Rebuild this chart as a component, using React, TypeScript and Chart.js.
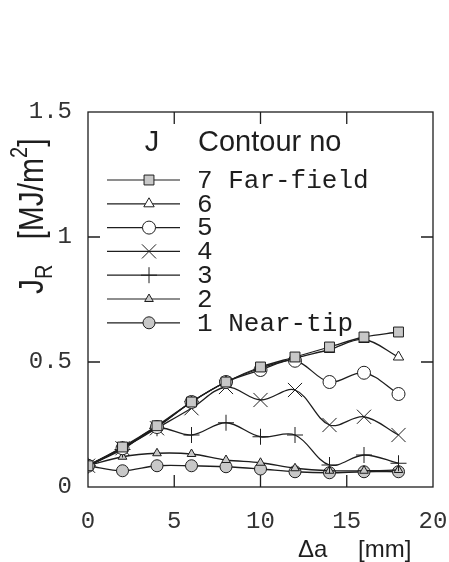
import React, { useEffect, useRef } from "react";
import { Chart, registerables } from "chart.js";
import { drawPoint } from "chart.js/helpers";

Chart.register(...registerables);

// ---- data ----
const crackExtension = [0, 2, 4, 6, 8, 10, 12, 14, 16, 18];
const contour7 = [0.085, 0.16, 0.245, 0.34, 0.42, 0.48, 0.52, 0.56, 0.6, 0.62];
const contour6 = [0.085, 0.158, 0.24, 0.34, 0.42, 0.475, 0.515, 0.55, 0.59, 0.52];
const contour5 = [0.085, 0.155, 0.24, 0.34, 0.42, 0.468, 0.505, 0.42, 0.457, 0.372];
const contour4 = [0.085, 0.155, 0.235, 0.315, 0.4, 0.348, 0.388, 0.248, 0.281, 0.208];
const contour3 = [0.085, 0.15, 0.235, 0.208, 0.257, 0.201, 0.208, 0.088, 0.128, 0.095];
const contour2 = [0.085, 0.121, 0.135, 0.132, 0.108, 0.097, 0.075, 0.065, 0.065, 0.068];
const contour1 = [0.085, 0.065, 0.085, 0.085, 0.081, 0.072, 0.061, 0.057, 0.061, 0.061];
const xTicks = [0, 5, 10, 15, 20];
const yTicks = [0, 0.5, 1, 1.5];
const legendLabels = ["7 Far-field", "6", "5", "4", "3", "2", "1 Near-tip"];

const INK = "#1e1e1e";
const GREY = "#c8c8c8";

const styles = [
  { data: contour7, pointStyle: "rect", radius: 7, fill: GREY },
  { data: contour6, pointStyle: "triangle", radius: 6, fill: "#ffffff" },
  { data: contour5, pointStyle: "circle", radius: 6.5, fill: "#ffffff" },
  { data: contour4, pointStyle: "crossRot", radius: 10, fill: "#ffffff" },
  { data: contour3, pointStyle: "cross", radius: 8, fill: "#ffffff" },
  { data: contour2, pointStyle: "triangle", radius: 5, fill: GREY },
  { data: contour1, pointStyle: "circle", radius: 6, fill: GREY },
];

const framePlugin = {
  id: "frame",
  afterDraw(chart: any) {
    const { ctx, chartArea: a } = chart;
    const xs = chart.scales.x;
    const ys = chart.scales.y;
    ctx.save();
    ctx.strokeStyle = INK;
    ctx.lineWidth = 1.3;
    ctx.strokeRect(a.left, a.top, a.right - a.left, a.bottom - a.top);
    const tl = 12;
    ctx.beginPath();
    for (const v of xTicks) {
      const px = xs.getPixelForValue(v);
      if (px <= a.left + 1 || px >= a.right - 1) continue;
      ctx.moveTo(px, a.bottom);
      ctx.lineTo(px, a.bottom - tl);
      ctx.moveTo(px, a.top);
      ctx.lineTo(px, a.top + tl);
    }
    for (const v of yTicks) {
      const py = ys.getPixelForValue(v);
      if (py <= a.top + 1 || py >= a.bottom - 1) continue;
      ctx.moveTo(a.left, py);
      ctx.lineTo(a.left + tl, py);
      ctx.moveTo(a.right, py);
      ctx.lineTo(a.right - tl, py);
    }
    ctx.stroke();

    // legend
    ctx.fillStyle = INK;
    ctx.textBaseline = "middle";
    ctx.font = "29px 'Liberation Sans', Arial, sans-serif";
    ctx.textAlign = "center";
    ctx.fillText("J", 152, 143);
    ctx.textAlign = "left";
    ctx.fillText("Contour no", 198, 143);
    ctx.font = "26px 'Liberation Mono', 'Courier New', monospace";
    legendLabels.forEach((lab, i) => {
      const y = 180 + i * 23.8;
      const st = styles[i];
      ctx.strokeStyle = INK;
      ctx.lineWidth = 1.2;
      ctx.beginPath();
      ctx.moveTo(107, y);
      ctx.lineTo(180, y);
      ctx.stroke();
      ctx.fillStyle = st.fill;
      ctx.strokeStyle = INK;
      ctx.lineWidth = 1;
      drawPoint(ctx, { pointStyle: st.pointStyle as any, radius: st.radius, rotation: 0, borderWidth: 1 }, 149, y);
      ctx.fillStyle = INK;
      ctx.fillText(lab, 197, y + 1);
    });

    // x title
    ctx.font = "24px 'Liberation Sans', Arial, sans-serif";
    ctx.textBaseline = "alphabetic";
    ctx.fillText("\u0394a", 298, 557);
    ctx.fillText("[mm]", 358, 557);

    // y title (rotated)
    ctx.translate(43, 294);
    ctx.rotate(-Math.PI / 2);
    ctx.scale(1, 1.15);
    let cx = 0;
    const main = "30px 'Liberation Sans', Arial, sans-serif";
    const small = "20px 'Liberation Sans', Arial, sans-serif";
    const parts: [string, string, number][] = [
      ["J", main, 0],
      ["R", small, 8],
      ["   [MJ/m", main, 0],
      ["2", small, -14],
      ["]", main, 0],
    ];
    for (const [t, f, dy] of parts) {
      ctx.font = f;
      ctx.fillText(t, cx, dy);
      cx += ctx.measureText(t).width;
    }
    ctx.restore();
  },
};

export default function App() {
  const ref = useRef<HTMLCanvasElement | null>(null);
  useEffect(() => {
    if (!ref.current) return;
    const chart = new Chart(ref.current, {
      type: "line",
      data: {
        datasets: styles.map((s, i) => ({
          label: legendLabels[i],
          data: crackExtension.map((x, k) => ({ x, y: s.data[k] })),
          borderColor: INK,
          borderWidth: 1.3,
          tension: 0.35,
          pointStyle: s.pointStyle as any,
          pointRadius: s.radius,
          pointBackgroundColor: s.fill,
          pointBorderColor: INK,
          pointBorderWidth: 1,
          fill: false,
        })),
      },
      options: {
        animation: false,
        responsive: true,
        maintainAspectRatio: false,
        layout: { padding: { left: 0, right: 16, top: 112, bottom: 0 } },
        plugins: { legend: { display: false }, tooltip: { enabled: false } },
        scales: {
          x: {
            type: "linear",
            min: 0,
            max: 20,
            grid: { display: false },
            border: { display: false },
            ticks: {
              stepSize: 5,
              padding: 12,
              color: "#333",
              font: { family: "'Liberation Mono', 'Courier New', monospace", size: 24 },
              maxRotation: 0,
            },
            afterFit: (s: any) => {
              s.height = 75;
              s.paddingLeft = 0;
              s.paddingRight = 0;
            },
          },
          y: {
            min: 0,
            max: 1.5,
            grid: { display: false },
            border: { display: false },
            ticks: {
              stepSize: 0.5,
              padding: 8,
              color: "#333",
              font: { family: "'Liberation Mono', 'Courier New', monospace", size: 24 },
              callback: (v: any) => String(+v),
            },
            afterFit: (s: any) => {
              s.width = 88;
              s.paddingTop = 0;
              s.paddingBottom = 0;
            },
          },
        },
      },
      plugins: [framePlugin],
    });
    return () => chart.destroy();
  }, []);
  return (
    <div style={{ position: "fixed", left: 0, top: 0, width: 449, height: 562, background: "#fff" }}>
      <canvas ref={ref} />
    </div>
  );
}
